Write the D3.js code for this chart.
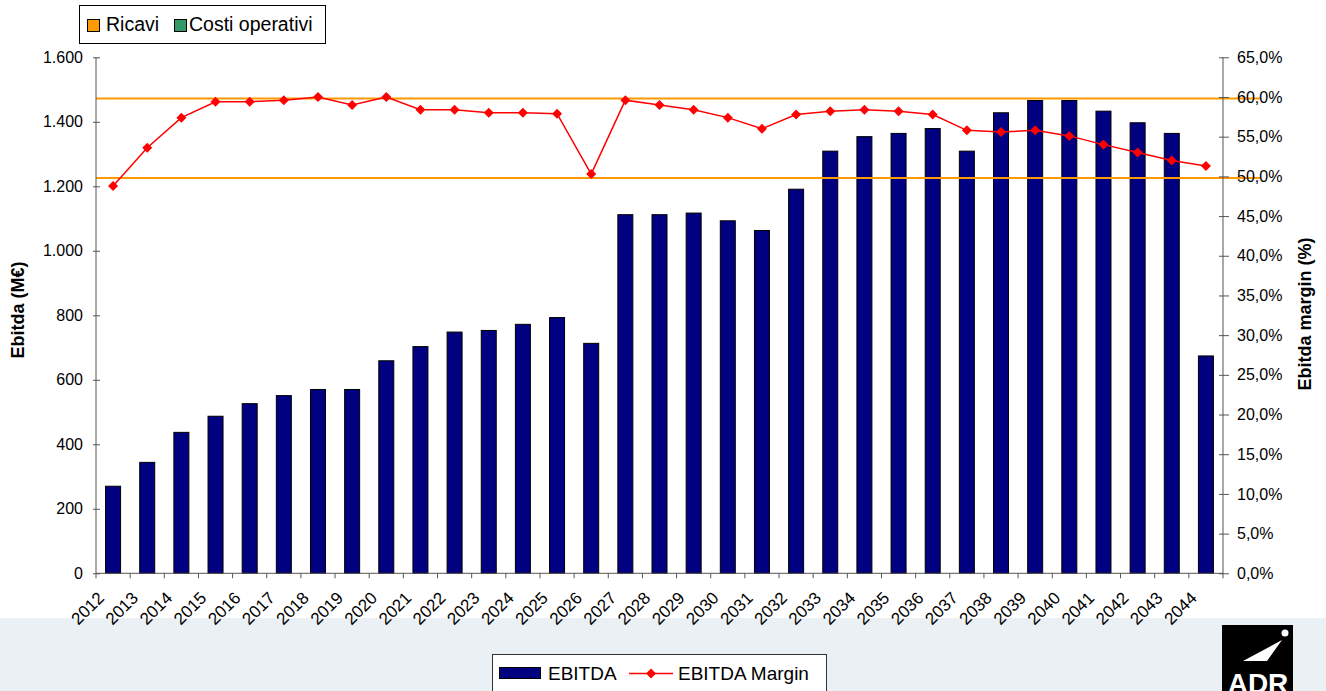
<!DOCTYPE html>
<html>
<head>
<meta charset="utf-8">
<script src="https://cdn.jsdelivr.net/npm/d3@7"></script>
<style>
  body { margin: 0; background: #fff; }
  svg text { font-family: "Liberation Sans", Arial, sans-serif; fill: #000; }
</style>
</head>
<body>
<script>
// anni e valori
var years = ["2012","2013","2014","2015","2016","2017","2018","2019","2020","2021","2022",
             "2023","2024","2025","2026","2027","2028","2029","2030","2031","2032","2033",
             "2034","2035","2036","2037","2038","2039","2040","2041","2042","2043","2044"];
var ebitda = [270, 344, 437, 487, 526, 551, 570, 570, 659, 703, 748,
              753, 772, 793, 713, 1112, 1112, 1117, 1093, 1063, 1191, 1309,
              1354, 1364, 1379, 1309, 1428, 1466, 1466, 1433, 1397, 1364, 674];
var margin = [48.8, 53.6, 57.4, 59.4, 59.4, 59.6, 60.0, 59.0, 60.0, 58.4, 58.4,
              58.0, 58.0, 57.9, 50.3, 59.6, 59.0, 58.4, 57.4, 56.0, 57.8, 58.2,
              58.4, 58.2, 57.8, 55.8, 55.6, 55.8, 55.1, 54.0, 53.0, 52.0, 51.3];
var leftTicks = [0, 200, 400, 600, 800, 1000, 1200, 1400, 1600];
var rightTicks = [0, 5, 10, 15, 20, 25, 30, 35, 40, 45, 50, 55, 60, 65];
var refLines = [59.8, 49.8]; // linee arancioni
var topLegend = [{name: "Ricavi", color: "#FF9900"}, {name: "Costi operativi", color: "#339966"}];

var W = 1326, H = 691;
var pL = 96, pR = 1223, pT = 57.3, pB = 573.3;

var it = d3.formatLocale({decimal: ",", thousands: ".", grouping: [3], currency: ["", "€"]});
var fmtL = it.format(",d"), fmtR = it.format(".1f");

var svg = d3.select("body").append("svg")
    .attr("width", W)
    .attr("height", H);

// sfondo in basso
svg.append("rect")
    .attr("x", 0).attr("y", 618)
    .attr("width", W).attr("height", H - 618)
    .attr("fill", "#EBF0F5");

var x = d3.scaleBand().domain(years).range([pL, pR]);
var y = d3.scaleLinear().domain([0, 1600]).range([pB, pT]);
var y2 = d3.scaleLinear().domain([0, 65]).range([pB, pT]);

// barre
svg.selectAll(".bar")
    .data(years)
    .enter().append("rect")
    .attr("class", "bar")
    .attr("x", function(d) { return x(d) + x.bandwidth() / 2 - 7.5; })
    .attr("y", function(d, i) { return y(ebitda[i]); })
    .attr("width", 15)
    .attr("height", function(d, i) { return pB - y(ebitda[i]); })
    .attr("fill", "#000080")
    .attr("stroke", "#000")
    .attr("stroke-width", 1);

// linee di riferimento
svg.selectAll(".ref")
    .data(refLines)
    .enter().append("line")
    .attr("x1", pL).attr("x2", 1261)
    .attr("y1", function(d) { return y2(d); })
    .attr("y2", function(d) { return y2(d); })
    .attr("stroke", "#FF9900")
    .attr("stroke-width", 2);

// asse sinistro
var gL = svg.append("g")
    .attr("transform", "translate(" + pL + ",0)")
    .call(d3.axisLeft(y).tickValues(leftTicks).tickFormat(fmtL).tickSize(3).tickPadding(10));
gL.selectAll(".tick line").attr("x1", 4);
gL.selectAll(".tick text").attr("font-size", 16).attr("font-family", "Liberation Sans, Arial");

// asse destro
var gR = svg.append("g")
    .attr("transform", "translate(" + pR + ",0)")
    .call(d3.axisRight(y2).tickValues(rightTicks).tickFormat(function(d) { return fmtR(d) + "%"; }).tickSize(6).tickPadding(8));
gR.selectAll(".tick line").attr("x1", -4);
gR.selectAll(".tick text").attr("font-size", 16).attr("font-family", "Liberation Sans, Arial");

[gL, gR].forEach(function(g) {
  g.select(".domain").remove();
  g.selectAll(".tick line").attr("stroke", "#555");
});
svg.append("line").attr("x1", pL).attr("x2", pL).attr("y1", pT).attr("y2", pB).attr("stroke", "#555");
svg.append("line").attr("x1", pR).attr("x2", pR).attr("y1", pT).attr("y2", pB).attr("stroke", "#555");

// asse x
svg.append("line")
    .attr("x1", pL).attr("x2", pR)
    .attr("y1", pB).attr("y2", pB)
    .attr("stroke", "#555");
svg.selectAll(".xtick")
    .data(years.concat(["end"]))
    .enter().append("line")
    .attr("x1", function(d, i) { return pL + i * x.step(); })
    .attr("x2", function(d, i) { return pL + i * x.step(); })
    .attr("y1", pB).attr("y2", pB + 5)
    .attr("stroke", "#555");
svg.selectAll(".xlab")
    .data(years)
    .enter().append("text")
    .attr("transform", function(d) { return "translate(" + (x(d) + x.bandwidth() / 2 - 8) + "," + 599 + ") rotate(-45)"; })
    .attr("text-anchor", "end")
    .attr("font-size", 17)
    .text(function(d) { return d; });

// titoli assi
svg.append("text")
    .attr("transform", "translate(24,310) rotate(-90)")
    .attr("text-anchor", "middle")
    .attr("font-size", 18)
    .attr("font-weight", "bold")
    .text("Ebitda (M€)");
svg.append("text")
    .attr("transform", "translate(1311,314) rotate(-90)")
    .attr("text-anchor", "middle")
    .attr("font-size", 18)
    .attr("font-weight", "bold")
    .text("Ebitda margin (%)");

// linea margine
var line = d3.line()
    .x(function(d, i) { return x(years[i]) + x.bandwidth() / 2; })
    .y(function(d) { return y2(d); });
svg.append("path")
    .datum(margin)
    .attr("d", line)
    .attr("fill", "none")
    .attr("stroke", "#FF0000")
    .attr("stroke-width", 1.5);
var diamond = d3.symbol().type(d3.symbolSquare).size(50);
svg.selectAll(".pt")
    .data(margin)
    .enter().append("path")
    .attr("d", diamond)
    .attr("transform", function(d, i) { return "translate(" + (x(years[i]) + x.bandwidth() / 2) + "," + y2(d) + ") rotate(45)"; })
    .attr("fill", "#FF0000");

// legenda in alto
var lt = svg.append("g");
lt.append("rect")
    .attr("x", 79.5).attr("y", 5.5).attr("width", 246).attr("height", 38)
    .attr("fill", "#fff").attr("stroke", "#000");
var ltx = [87, 174], ltt = [106, 189];
lt.selectAll(".sq")
    .data(topLegend)
    .enter().append("rect")
    .attr("x", function(d, i) { return ltx[i] + 0.5; })
    .attr("y", 19.5).attr("width", 12).attr("height", 12)
    .attr("fill", function(d) { return d.color; })
    .attr("stroke", "#000");
lt.selectAll(".lb")
    .data(topLegend)
    .enter().append("text")
    .attr("x", function(d, i) { return ltt[i]; })
    .attr("y", 31)
    .attr("font-size", 19.5)
    .text(function(d) { return d.name; });

// legenda in basso
var lb = svg.append("g");
lb.append("rect")
    .attr("x", 492.5).attr("y", 654.5).attr("width", 334).attr("height", 45)
    .attr("fill", "#fff").attr("stroke", "#333");
lb.append("rect")
    .attr("x", 499.5).attr("y", 667.5).attr("width", 41).attr("height", 11)
    .attr("fill", "#000080").attr("stroke", "#000");
lb.append("text").attr("x", 548).attr("y", 680).attr("font-size", 19).text("EBITDA");
lb.append("line")
    .attr("x1", 629).attr("x2", 673).attr("y1", 673.5).attr("y2", 673.5)
    .attr("stroke", "#FF0000").attr("stroke-width", 1.5);
lb.append("path")
    .attr("d", diamond)
    .attr("transform", "translate(651,673.5) rotate(45)")
    .attr("fill", "#FF0000");
lb.append("text").attr("x", 678).attr("y", 680).attr("font-size", 19).text("EBITDA Margin");

// logo ADR
var logo = svg.append("g");
logo.append("rect").attr("x", 1222).attr("y", 625).attr("width", 71).attr("height", 70).attr("fill", "#000");
logo.append("circle").attr("cx", 1285).attr("cy", 633).attr("r", 3.5).attr("fill", "#fff");
logo.append("path").attr("d", "M1282,640 L1243,661 L1267,661 Z").attr("fill", "#fff");
logo.append("text")
    .attr("x", 1258).attr("y", 693)
    .attr("text-anchor", "middle")
    .attr("font-size", 28)
    .attr("font-weight", "bold")
    .style("fill", "#fff")
    .text("ADR");
</script>
</body>
</html>
